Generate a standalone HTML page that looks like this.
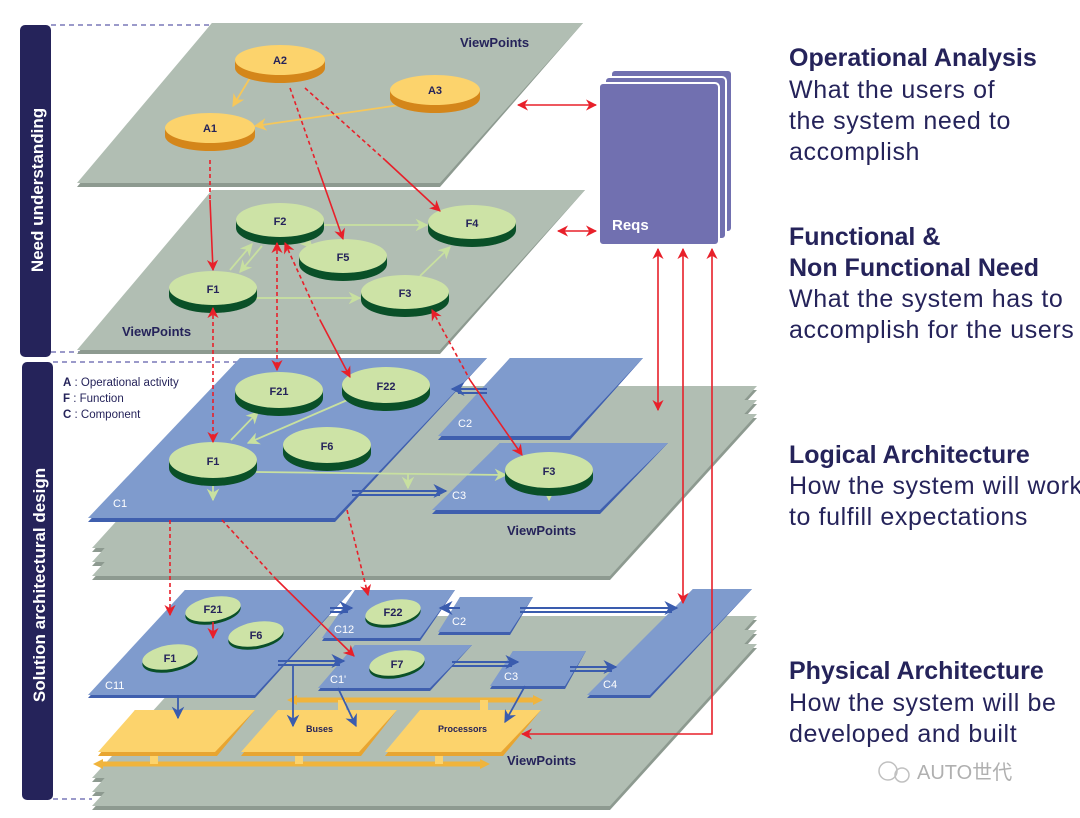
<!DOCTYPE html>
<html><head><meta charset="utf-8"><style>
html,body{margin:0;padding:0;background:#fff;}
svg{display:block;}
.t{font-family:"Liberation Sans",sans-serif;}
</style></head><body>
<svg width="1080" height="818" viewBox="0 0 1080 818" xmlns="http://www.w3.org/2000/svg" class="t">
<defs>
<marker id="ar" viewBox="0 0 10 10" refX="9" refY="5" markerWidth="7" markerHeight="7" orient="auto-start-reverse"><path d="M0,0 L10,5 L0,10 L3,5z" fill="#e8202a"/></marker>
<marker id="ag" viewBox="0 0 10 10" refX="9" refY="5" markerWidth="7" markerHeight="7" orient="auto-start-reverse"><path d="M0,0 L10,5 L0,10 L3,5z" fill="#c8e0a0"/></marker>
<marker id="ay" viewBox="0 0 10 10" refX="9" refY="5" markerWidth="7" markerHeight="7" orient="auto-start-reverse"><path d="M0,0 L10,5 L0,10 L3,5z" fill="#f6c75a"/></marker>
<marker id="ab" viewBox="0 0 10 10" refX="9" refY="5" markerWidth="7" markerHeight="7" orient="auto"><path d="M0,0 L10,5 L0,10 L3,5z" fill="#3a5cae"/></marker>
<marker id="ao" viewBox="0 0 10 10" refX="5" refY="5" markerUnits="userSpaceOnUse" markerWidth="12" markerHeight="10" orient="auto-start-reverse"><path d="M0,0 L10,5 L0,10z" fill="#f0b43c"/></marker>
</defs>

<rect x="20" y="25" width="31" height="332" rx="5" fill="#25235a"/>
<rect x="22" y="362" width="31" height="438" rx="5" fill="#25235a"/>
<g stroke="#7a78b8" stroke-width="1.5" stroke-dasharray="5,4">
<line x1="51" y1="25" x2="212" y2="25"/><line x1="51" y1="352" x2="90" y2="352"/>
<line x1="53" y1="362" x2="240" y2="362"/><line x1="53" y1="799" x2="92" y2="799"/>
</g>
<text transform="translate(43,190) rotate(-90)" text-anchor="middle" fill="#fff" font-size="17" font-weight="bold">Need understanding</text>
<text transform="translate(45,585) rotate(-90)" text-anchor="middle" fill="#fff" font-size="17" font-weight="bold">Solution architectural design</text>

<path d="M212,23 L583,23 L440,187 L77,187z" fill="#8d9a90"/>
<path d="M212,23 L583,23 L440,183 L77,183z" fill="#b1beb3"/>
<text x="460" y="47" fill="#25235a" font-size="13" font-weight="bold">ViewPoints</text>
<path d="M212,190 L585,190 L440,354 L77,354z" fill="#8d9a90"/>
<path d="M212,190 L585,190 L440,350 L77,350z" fill="#b1beb3"/>
<text x="122" y="336" fill="#25235a" font-size="13" font-weight="bold">ViewPoints</text>

<g fill="#8d9a90">
<path d="M239,418 L757,418 L610,580 L92,580z"/>
<path d="M239,404 L757,404 L610,566 L92,566z"/>
<path d="M239,390 L757,390 L610,552 L92,552z"/>
</g>
<g fill="#b1beb3">
<path d="M239,414 L757,414 L610,576 L92,576z"/>
<path d="M239,400 L757,400 L610,562 L92,562z"/>
<path d="M239,386 L757,386 L610,548 L92,548z"/>
</g>
<text x="507" y="535" fill="#25235a" font-size="13" font-weight="bold">ViewPoints</text>
<path d="M240,358 L487,358 L335,522 L88,522z" fill="#3f5fae"/>
<path d="M240,358 L487,358 L335,518 L88,518z" fill="#7f9bcd"/>
<path d="M510,358 L643,358 L570,440 L438,440z" fill="#3f5fae"/>
<path d="M510,358 L643,358 L570,436 L438,436z" fill="#7f9bcd"/>
<path d="M500,443 L668,443 L600,514 L432,514z" fill="#3f5fae"/>
<path d="M500,443 L668,443 L600,510 L432,510z" fill="#7f9bcd"/>
<g fill="#fff" font-size="11"><text x="113" y="507">C1</text><text x="458" y="427">C2</text><text x="452" y="499">C3</text></g>
<g fill="#25235a" font-size="11.5"><text x="63" y="386"><tspan font-weight="bold">A</tspan> : Operational activity</text><text x="63" y="402"><tspan font-weight="bold">F</tspan> : Function</text><text x="63" y="418"><tspan font-weight="bold">C</tspan> : Component</text></g>
<g stroke="#3a5cae" stroke-width="2" fill="none">
<line x1="487" y1="389" x2="452" y2="389" marker-end="url(#ab)"/><line x1="487" y1="393" x2="458" y2="393"/>
<line x1="352" y1="491" x2="446" y2="491" marker-end="url(#ab)"/><line x1="352" y1="495" x2="440" y2="495"/>
</g>

<g fill="#8d9a90">
<path d="M239,648 L757,648 L610,810 L92,810z"/>
<path d="M239,634 L757,634 L610,796 L92,796z"/>
<path d="M239,620 L757,620 L610,782 L92,782z"/>
</g>
<g fill="#b1beb3">
<path d="M239,644 L757,644 L610,806 L92,806z"/>
<path d="M239,630 L757,630 L610,792 L92,792z"/>
<path d="M239,616 L757,616 L610,778 L92,778z"/>
</g>
<text x="507" y="765" fill="#25235a" font-size="13" font-weight="bold">ViewPoints</text>
<g fill="#3f5fae">
<path d="M185,590 L352,590 L255,698 L88,698z"/>
<path d="M355,590 L455,590 L420,641 L322,641z"/>
<path d="M460,597 L533,597 L510,635 L438,635z"/>
<path d="M355,645 L472,645 L430,691 L318,691z"/>
<path d="M513,651 L586,651 L565,689 L490,689z"/>
<path d="M693,589 L752,589 L650,698 L587,698z"/>
</g>
<g fill="#7f9bcd">
<path d="M185,590 L352,590 L255,695 L88,695z"/>
<path d="M355,590 L455,590 L420,638 L322,638z"/>
<path d="M460,597 L533,597 L510,632 L438,632z"/>
<path d="M355,645 L472,645 L430,688 L318,688z"/>
<path d="M513,651 L586,651 L565,686 L490,686z"/>
<path d="M693,589 L752,589 L650,695 L587,695z"/>
</g>
<g fill="#fff" font-size="11"><text x="105" y="689">C11</text><text x="334" y="633">C12</text><text x="452" y="625">C2</text><text x="330" y="683">C1'</text><text x="504" y="680">C3</text><text x="603" y="688">C4</text></g>
<g stroke="#3a5cae" stroke-width="2" fill="none">
<line x1="330" y1="608" x2="352" y2="608" marker-end="url(#ab)"/><line x1="330" y1="612" x2="348" y2="612"/>
<line x1="460" y1="608" x2="440" y2="608" marker-end="url(#ab)"/>
<line x1="520" y1="608" x2="677" y2="608" marker-end="url(#ab)"/><line x1="520" y1="612" x2="672" y2="612"/>
<line x1="278" y1="661" x2="344" y2="661" marker-end="url(#ab)"/><line x1="278" y1="665" x2="340" y2="665"/>
<line x1="452" y1="662" x2="518" y2="662" marker-end="url(#ab)"/><line x1="452" y1="666" x2="512" y2="666"/>
<line x1="570" y1="667" x2="616" y2="667" marker-end="url(#ab)"/><line x1="570" y1="671" x2="612" y2="671"/>
</g>
<line x1="292" y1="700" x2="538" y2="700" stroke="#f0b43c" stroke-width="5" marker-start="url(#ao)" marker-end="url(#ao)"/>
<line x1="98" y1="764" x2="485" y2="764" stroke="#f0b43c" stroke-width="5" marker-start="url(#ao)" marker-end="url(#ao)"/>
<g fill="#fcd36c"><rect x="338" y="700" width="8" height="12"/><rect x="480" y="700" width="8" height="12"/><rect x="150" y="750" width="8" height="14"/><rect x="295" y="750" width="8" height="14"/><rect x="435" y="750" width="8" height="14"/></g>
<g fill="#e8a530">
<path d="M135,710 L255,710 L217,756 L98,756z"/><path d="M278,710 L397,710 L361,756 L241,756z"/><path d="M420,710 L541,710 L503,756 L385,756z"/>
</g>
<g fill="#fcd36c">
<path d="M135,710 L255,710 L215,752 L98,752z"/><path d="M278,710 L397,710 L359,752 L241,752z"/><path d="M420,710 L541,710 L501,752 L385,752z"/>
</g>
<g fill="#25235a" font-size="9" font-weight="bold"><text x="306" y="732">Buses</text><text x="438" y="732">Processors</text></g>
<g stroke="#3a5cae" stroke-width="1.8" fill="none">
<line x1="178" y1="695" x2="178" y2="718" marker-end="url(#ab)"/>
<line x1="293" y1="666" x2="293" y2="726" marker-end="url(#ab)"/>
<line x1="338" y1="688" x2="356" y2="726" marker-end="url(#ab)"/>
<line x1="525" y1="686" x2="505" y2="722" marker-end="url(#ab)"/>
</g>

<rect x="611" y="70" width="121" height="162" rx="4" fill="#7170b0" stroke="#fff" stroke-width="2"/>
<rect x="605" y="77" width="121" height="162" rx="4" fill="#7170b0" stroke="#fff" stroke-width="2"/>
<rect x="599" y="83" width="120" height="162" rx="4" fill="#7170b0" stroke="#fff" stroke-width="2"/>
<text x="612" y="230" fill="#fff" font-size="15" font-weight="bold">Reqs</text>

<g stroke="#f6c75a" stroke-width="1.8" fill="none">
<line x1="250" y1="78" x2="233" y2="106" marker-end="url(#ay)"/>
<line x1="400" y1="105" x2="255" y2="126" marker-end="url(#ay)"/>
</g>
<g stroke="#c8e0a0" stroke-width="1.8" fill="none">
<line x1="323" y1="225" x2="427" y2="225" marker-end="url(#ag)"/>
<line x1="303" y1="238" x2="312" y2="248" marker-end="url(#ag)"/>
<line x1="230" y1="270" x2="252" y2="244" marker-end="url(#ag)"/>
<line x1="262" y1="246" x2="240" y2="272" marker-end="url(#ag)"/>
<line x1="253" y1="298" x2="360" y2="298" marker-end="url(#ag)"/>
<line x1="420" y1="276" x2="450" y2="247" marker-end="url(#ag)"/>
<line x1="231" y1="440" x2="258" y2="412" marker-end="url(#ag)"/>
<line x1="352" y1="398" x2="248" y2="443" marker-end="url(#ag)"/>
<line x1="213" y1="483" x2="213" y2="500" marker-end="url(#ag)"/>
<line x1="256" y1="472" x2="506" y2="475" marker-end="url(#ag)"/>
<line x1="408" y1="474" x2="408" y2="488" marker-end="url(#ag)"/>
<line x1="549" y1="488" x2="549" y2="500" marker-end="url(#ag)"/>
</g>

<g>
<ellipse cx="280" cy="68" rx="45" ry="15" fill="#d4861a"/><rect x="235" y="60" width="90" height="8" fill="#d4861a"/><ellipse cx="280" cy="60" rx="45" ry="15" fill="#fcd36c"/>
<ellipse cx="435" cy="98" rx="45" ry="15" fill="#d4861a"/><rect x="390" y="90" width="90" height="8" fill="#d4861a"/><ellipse cx="435" cy="90" rx="45" ry="15" fill="#fcd36c"/>
<ellipse cx="210" cy="136" rx="45" ry="15" fill="#d4861a"/><rect x="165" y="128" width="90" height="8" fill="#d4861a"/><ellipse cx="210" cy="128" rx="45" ry="15" fill="#fcd36c"/>
</g>
<g>
<ellipse cx="280" cy="228" rx="44" ry="17" fill="#0a5028"/><rect x="236" y="220" width="88" height="8" fill="#0a5028"/><ellipse cx="280" cy="220" rx="44" ry="17" fill="#cde3a6"/>
<ellipse cx="472" cy="230" rx="44" ry="17" fill="#0a5028"/><rect x="428" y="222" width="88" height="8" fill="#0a5028"/><ellipse cx="472" cy="222" rx="44" ry="17" fill="#cde3a6"/>
<ellipse cx="343" cy="264" rx="44" ry="17" fill="#0a5028"/><rect x="299" y="256" width="88" height="8" fill="#0a5028"/><ellipse cx="343" cy="256" rx="44" ry="17" fill="#cde3a6"/>
<ellipse cx="213" cy="296" rx="44" ry="17" fill="#0a5028"/><rect x="169" y="288" width="88" height="8" fill="#0a5028"/><ellipse cx="213" cy="288" rx="44" ry="17" fill="#cde3a6"/>
<ellipse cx="405" cy="300" rx="44" ry="17" fill="#0a5028"/><rect x="361" y="292" width="88" height="8" fill="#0a5028"/><ellipse cx="405" cy="292" rx="44" ry="17" fill="#cde3a6"/>
</g>
<g>
<ellipse cx="279" cy="398" rx="44" ry="18" fill="#0a5028"/><rect x="235" y="390" width="88" height="8" fill="#0a5028"/><ellipse cx="279" cy="390" rx="44" ry="18" fill="#cde3a6"/>
<ellipse cx="386" cy="393" rx="44" ry="18" fill="#0a5028"/><rect x="342" y="385" width="88" height="8" fill="#0a5028"/><ellipse cx="386" cy="385" rx="44" ry="18" fill="#cde3a6"/>
<ellipse cx="327" cy="453" rx="44" ry="18" fill="#0a5028"/><rect x="283" y="445" width="88" height="8" fill="#0a5028"/><ellipse cx="327" cy="445" rx="44" ry="18" fill="#cde3a6"/>
<ellipse cx="213" cy="468" rx="44" ry="18" fill="#0a5028"/><rect x="169" y="460" width="88" height="8" fill="#0a5028"/><ellipse cx="213" cy="460" rx="44" ry="18" fill="#cde3a6"/>
<ellipse cx="549" cy="478" rx="44" ry="18" fill="#0a5028"/><rect x="505" y="470" width="88" height="8" fill="#0a5028"/><ellipse cx="549" cy="470" rx="44" ry="18" fill="#cde3a6"/>
</g>
<g>
<ellipse cx="213" cy="612" rx="28" ry="12" fill="#0a5028" transform="rotate(-10 213 612)"/><ellipse cx="213" cy="609" rx="28" ry="12" fill="#cde3a6" transform="rotate(-10 213 609)"/>
<ellipse cx="256" cy="637" rx="28" ry="12" fill="#0a5028" transform="rotate(-10 256 637)"/><ellipse cx="256" cy="634" rx="28" ry="12" fill="#cde3a6" transform="rotate(-10 256 634)"/>
<ellipse cx="170" cy="660" rx="28" ry="12" fill="#0a5028" transform="rotate(-10 170 660)"/><ellipse cx="170" cy="657" rx="28" ry="12" fill="#cde3a6" transform="rotate(-10 170 657)"/>
<ellipse cx="393" cy="615" rx="28" ry="12" fill="#0a5028" transform="rotate(-10 393 615)"/><ellipse cx="393" cy="612" rx="28" ry="12" fill="#cde3a6" transform="rotate(-10 393 612)"/>
<ellipse cx="397" cy="666" rx="28" ry="12" fill="#0a5028" transform="rotate(-10 397 666)"/><ellipse cx="397" cy="663" rx="28" ry="12" fill="#cde3a6" transform="rotate(-10 397 663)"/>
</g>
<g fill="#25235a" font-size="11" font-weight="bold" text-anchor="middle">
<text x="280" y="64">A2</text><text x="435" y="94">A3</text><text x="210" y="132">A1</text>
<text x="280" y="225">F2</text><text x="472" y="227">F4</text><text x="343" y="261">F5</text><text x="213" y="293">F1</text><text x="405" y="297">F3</text>
<text x="279" y="395">F21</text><text x="386" y="390">F22</text><text x="327" y="450">F6</text><text x="213" y="465">F1</text><text x="549" y="475">F3</text>
<text x="213" y="613">F21</text><text x="256" y="639">F6</text><text x="170" y="662">F1</text><text x="393" y="616">F22</text><text x="397" y="668">F7</text>
</g>

<g stroke="#e8202a" stroke-width="1.6" fill="none">
<line x1="518" y1="105" x2="596" y2="105" marker-start="url(#ar)" marker-end="url(#ar)"/>
<line x1="558" y1="231" x2="596" y2="231" marker-start="url(#ar)" marker-end="url(#ar)"/>
<line x1="658" y1="249" x2="658" y2="410" marker-start="url(#ar)" marker-end="url(#ar)"/>
<line x1="683" y1="249" x2="683" y2="603" marker-start="url(#ar)" marker-end="url(#ar)"/>
<polyline points="712,249 712,734 522,734" marker-start="url(#ar)" marker-end="url(#ar)"/>
<line x1="210" y1="160" x2="210" y2="200" stroke-dasharray="4,3"/><line x1="210" y1="200" x2="213" y2="270" marker-end="url(#ar)"/>
<line x1="290" y1="88" x2="318" y2="168" stroke-dasharray="4,3"/><line x1="318" y1="168" x2="343" y2="239" marker-end="url(#ar)"/>
<line x1="305" y1="88" x2="385" y2="160" stroke-dasharray="4,3"/><line x1="385" y1="160" x2="440" y2="211" marker-end="url(#ar)"/>
<line x1="213" y1="308" x2="213" y2="442" stroke-dasharray="4,3" marker-start="url(#ar)" marker-end="url(#ar)"/>
<line x1="277" y1="243" x2="277" y2="370" stroke-dasharray="4,3" marker-start="url(#ar)" marker-end="url(#ar)"/>
<line x1="285" y1="243" x2="320" y2="320" stroke-dasharray="4,3" marker-start="url(#ar)"/><line x1="320" y1="320" x2="350" y2="377" marker-end="url(#ar)"/>
<line x1="432" y1="310" x2="470" y2="380" stroke-dasharray="4,3" marker-start="url(#ar)"/><line x1="470" y1="380" x2="522" y2="455" marker-end="url(#ar)"/>
<line x1="170" y1="520" x2="170" y2="615" stroke-dasharray="4,3" marker-end="url(#ar)"/>
<line x1="222" y1="520" x2="275" y2="578" stroke-dasharray="4,3"/><line x1="275" y1="578" x2="354" y2="656" marker-end="url(#ar)"/>
<line x1="347" y1="510" x2="368" y2="595" stroke-dasharray="4,3" marker-end="url(#ar)"/>
<line x1="213" y1="622" x2="213" y2="638" marker-end="url(#ar)"/>
</g>

<g fill="#25235a" font-size="25">
<text x="789" y="66" font-weight="bold">Operational Analysis</text>
<g letter-spacing="0.6"><text x="789" y="98">What the users of</text><text x="789" y="129">the system need to</text><text x="789" y="160">accomplish</text></g>
<text x="789" y="245" font-weight="bold">Functional &amp;</text>
<text x="789" y="276" font-weight="bold">Non Functional Need</text>
<g letter-spacing="0.6"><text x="789" y="307">What the system has to</text><text x="789" y="338">accomplish for the users</text></g>
<text x="789" y="463" font-weight="bold">Logical Architecture</text>
<g letter-spacing="0.6"><text x="789" y="494">How the system will work</text><text x="789" y="525">to fulfill expectations</text></g>
<text x="789" y="679" font-weight="bold">Physical Architecture</text>
<g letter-spacing="0.6"><text x="789" y="711">How the system will be</text><text x="789" y="742">developed and built</text></g>
</g>
<text x="917" y="779" fill="#b0b0b0" font-size="20" font-family="'Liberation Sans','Noto Sans CJK SC',sans-serif">AUTO世代</text>
<circle cx="888" cy="771" r="9" fill="none" stroke="#c0c0c0" stroke-width="1.5"/><circle cx="902" cy="775" r="7" fill="none" stroke="#c0c0c0" stroke-width="1.5"/>
</svg>
</body></html>
